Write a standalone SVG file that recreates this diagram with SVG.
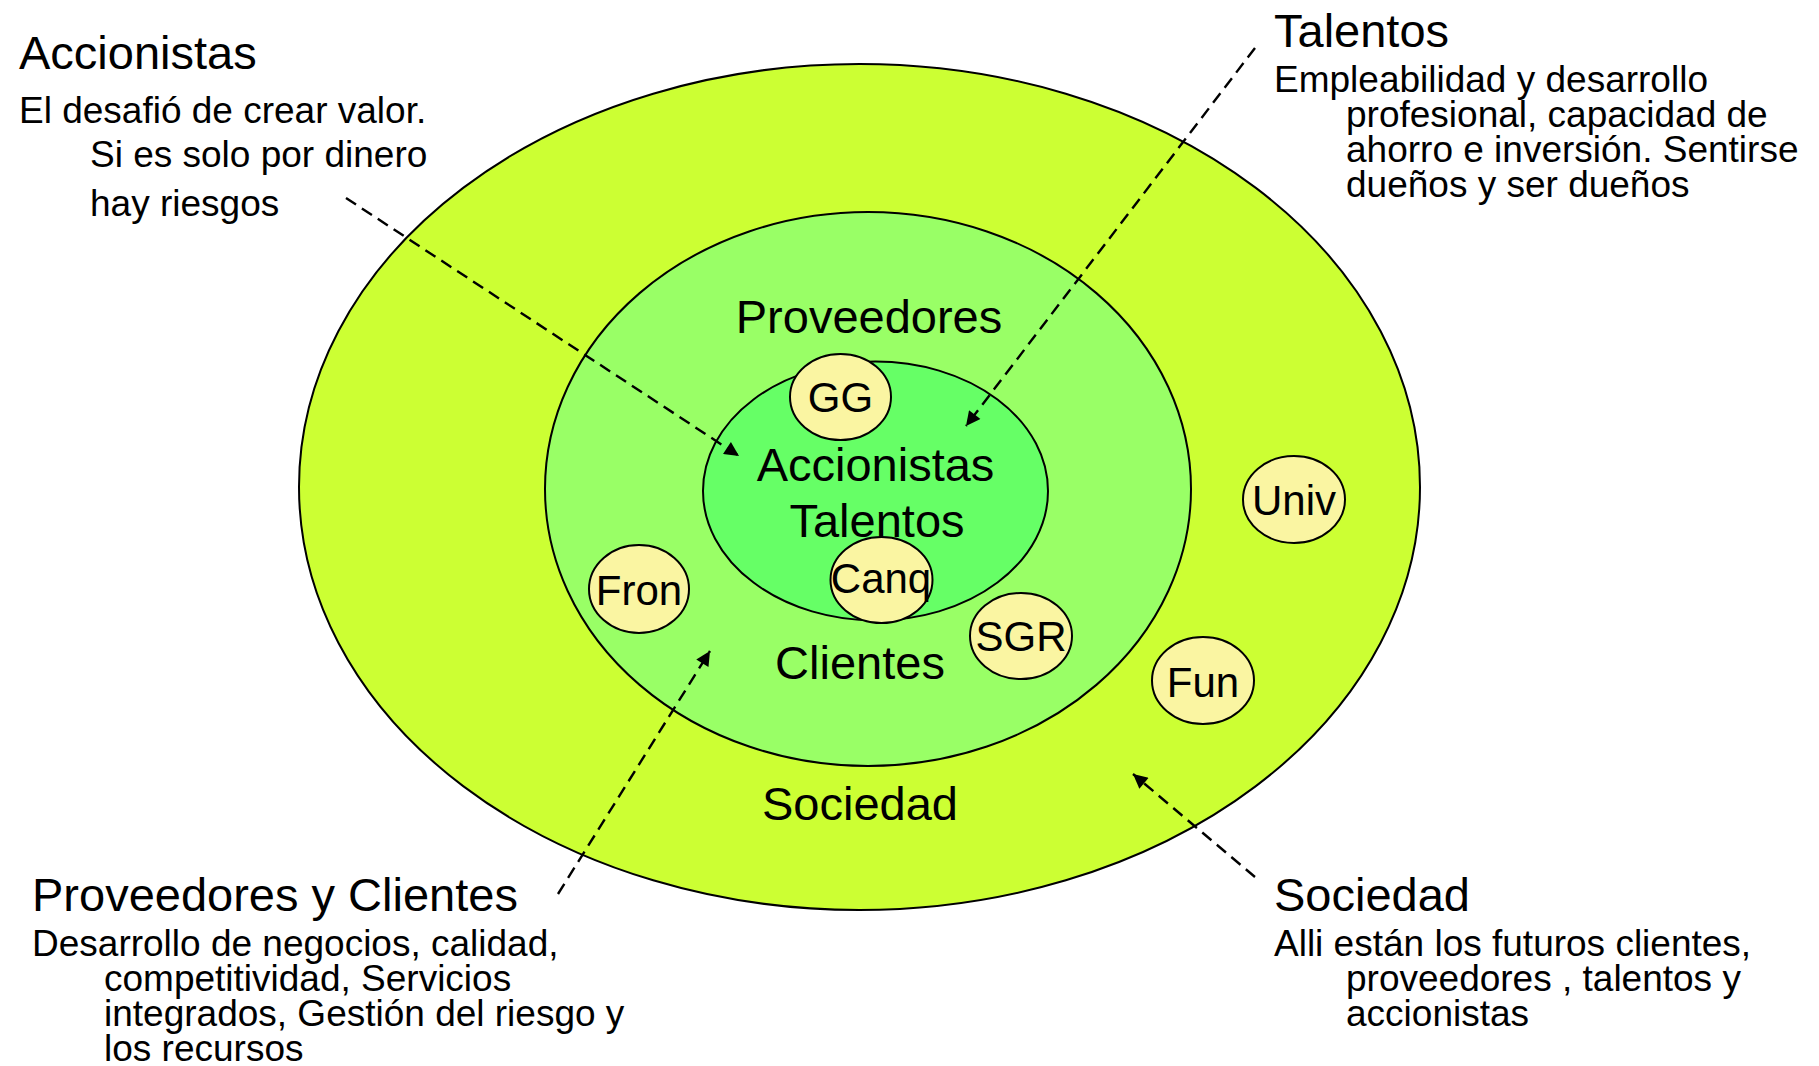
<svg xmlns="http://www.w3.org/2000/svg" width="1819" height="1066" viewBox="0 0 1819 1066">
<style>
  text { font-family: "Liberation Sans", Arial, sans-serif; fill: #000; }
  .title { font-size: 47px; }
  .body { font-size: 37px; }
  .ring { stroke: #000; stroke-width: 2; }
  .badge ellipse { fill: #FAF5A2; stroke: #000; stroke-width: 2; }
  .badge text { font-size: 42px; text-anchor: middle; }
  .lbl { font-size: 47px; text-anchor: middle; }
  .conn { stroke: #000; stroke-width: 2.4; stroke-dasharray: 12 7; fill: none; marker-end: url(#ah); }
</style>
<defs>
  <marker id="ah" viewBox="0 0 10 10" refX="10" refY="5" markerWidth="7" markerHeight="6" markerUnits="strokeWidth" orient="auto">
    <path d="M0,0 L10,5 L0,10 z" fill="#000"/>
  </marker>
</defs>
<rect width="1819" height="1066" fill="#fff"/>

<g id="sociedad-ring">
  <ellipse class="ring" cx="859.5" cy="487" rx="560.5" ry="423" fill="#CCFF33"/>
  <text class="lbl" x="860" y="820">Sociedad</text>
</g>
<g id="prov-clientes-ring">
  <ellipse class="ring" cx="868" cy="489" rx="323" ry="277" fill="#99FF66"/>
  <text class="lbl" x="869" y="333">Proveedores</text>
  <text class="lbl" x="860" y="679">Clientes</text>
</g>
<g id="accionistas-talentos-ring">
  <ellipse class="ring" cx="875.5" cy="491" rx="172.5" ry="129.5" fill="#66FF66"/>
  <text class="lbl" x="875.5" y="481">Accionistas</text>
  <text class="lbl" x="877" y="537">Talentos</text>
</g>

<g id="gg" class="badge">
  <ellipse cx="840.5" cy="397" rx="50.5" ry="43"/>
  <text x="840.5" y="412">GG</text>
</g>
<g id="canq" class="badge">
  <ellipse cx="881.5" cy="580" rx="51" ry="43"/>
  <text x="881" y="593">Canq</text>
</g>
<g id="fron" class="badge">
  <ellipse cx="639" cy="589" rx="50" ry="44"/>
  <text x="639" y="605">Fron</text>
</g>
<g id="sgr" class="badge">
  <ellipse cx="1021" cy="636" rx="51" ry="43"/>
  <text x="1021" y="651">SGR</text>
</g>
<g id="univ" class="badge">
  <ellipse cx="1294" cy="499.5" rx="51" ry="43.5"/>
  <text x="1294" y="515">Univ</text>
</g>
<g id="fun" class="badge">
  <ellipse cx="1203" cy="680.5" rx="51" ry="43.5"/>
  <text x="1203" y="697">Fun</text>
</g>

<g id="note-accionistas">
  <text class="title" x="19" y="69">Accionistas</text>
  <text class="body" x="19" y="123">El desafió de crear valor.</text>
  <text class="body" x="90" y="167">Si es solo por dinero</text>
  <text class="body" x="90" y="216">hay riesgos</text>
</g>
<g id="note-talentos">
  <text class="title" x="1274" y="47">Talentos</text>
  <text class="body" x="1274" y="92">Empleabilidad y desarrollo</text>
  <text class="body" x="1346" y="127">profesional, capacidad de</text>
  <text class="body" x="1346" y="162">ahorro e inversión. Sentirse</text>
  <text class="body" x="1346" y="197">dueños y ser dueños</text>
</g>
<g id="note-prov-clientes">
  <text class="title" x="32" y="911">Proveedores y Clientes</text>
  <text class="body" x="32" y="956">Desarrollo de negocios, calidad,</text>
  <text class="body" x="104" y="991">competitividad, Servicios</text>
  <text class="body" x="104" y="1026">integrados, Gestión del riesgo y</text>
  <text class="body" x="104" y="1061">los recursos</text>
</g>
<g id="note-sociedad">
  <text class="title" x="1274" y="911">Sociedad</text>
  <text class="body" x="1274" y="956">Alli están los futuros clientes,</text>
  <text class="body" x="1346" y="991">proveedores , talentos y</text>
  <text class="body" x="1346" y="1026">accionistas</text>
</g>

<g id="connectors">
  <line class="conn" x1="346" y1="198" x2="739" y2="456"/>
  <line class="conn" x1="1255" y1="48" x2="966" y2="426"/>
  <line class="conn" x1="558" y1="894" x2="710" y2="651"/>
  <line class="conn" x1="1255" y1="877" x2="1133" y2="774"/>
</g>
</svg>
